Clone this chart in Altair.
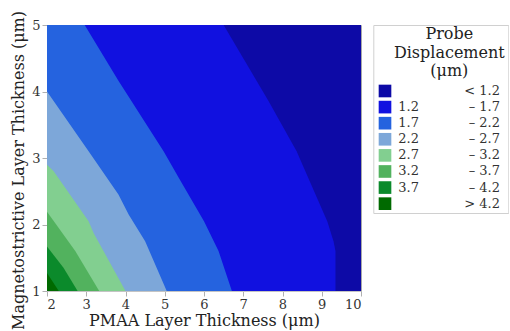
import altair as alt
import pandas as pd

# Contour bands (lowest to highest displacement)
bands = ["< 1.2", "1.2 – 1.7", "1.7 – 2.2", "2.2 – 2.7", "2.7 – 3.2", "3.2 – 3.7", "3.7 – 4.2", "> 4.2"]
band_lo = ["", "1.2", "1.7", "2.2", "2.7", "3.2", "3.7", ""]
band_hi = ["< 1.2", "– 1.7", "– 2.2", "– 2.7", "– 3.2", "– 3.7", "– 4.2", "> 4.2"]
colors = ["#0d0aa6", "#1111e0", "#2563df", "#7da7d9", "#82cf90", "#52b25e", "#0b8a2b", "#006a00"]

# Contour boundaries: region left of boundary k has colour of band k
# (y = magnetostrictive thickness, x = PMAA thickness)
b0_y = [1, 5]
b0_x = [10, 10]
b1_y = [1, 1.6, 1.75, 2.05, 3.1, 3.86, 5]
b1_x = [9.35, 9.35, 9.30, 9.14, 8.36, 7.64, 6.50]
b2_y = [1, 1.6, 2.05, 2.7, 3.1, 4.16, 5]
b2_x = [6.71, 6.37, 6.0, 5.36, 4.97, 3.82, 2.96]
b3_y = [1, 1.75, 2.15, 2.45, 3.1, 4.0]
b3_x = [5.05, 4.50, 4.08, 3.82, 3.06, 2.0]
b4_y = [1, 1.87, 2.05, 2.80, 2.90]
b4_x = [4.0, 3.19, 3.06, 2.17, 2.0]
b5_y = [1, 1.6, 2.19]
b5_x = [3.33, 2.72, 2.0]
b6_y = [1, 1.35, 1.67]
b6_x = [2.78, 2.42, 2.0]
b7_y = [1, 1.27]
b7_x = [2.30, 2.0]

x_ticks = [2, 3, 4, 5, 6, 7, 8, 9, 10]
y_ticks = [1, 2, 3, 4, 5]
legend_title = ["Probe", "Displacement", "(μm)"]

boundaries = [(b0_y, b0_x), (b1_y, b1_x), (b2_y, b2_x), (b3_y, b3_x),
              (b4_y, b4_x), (b5_y, b5_x), (b6_y, b6_x), (b7_y, b7_x)]

x_min = x_ticks[0]
y_min = y_ticks[0]

# polygon per band: boundary points bottom->top, then back down the left edge
rows = []
for k, (ys, xs) in enumerate(boundaries):
    pts = list(zip(xs, ys))
    pts += [(x_min, ys[-1]), (x_min, y_min)]
    for i, (x, y) in enumerate(pts):
        rows.append({"band": bands[k], "k": k, "i": i, "x": x, "y": y})
df = pd.DataFrame(rows)

FONT = "DejaVu Serif"
color_scale = alt.Scale(domain=bands, range=colors)
xs = alt.Scale(domain=[x_ticks[0], x_ticks[-1]], nice=False, zero=False)
ys_ = alt.Scale(domain=[y_ticks[0], y_ticks[-1]], nice=False, zero=False)

x_axis = alt.Axis(values=x_ticks, format="d", grid=False, title="PMAA Layer Thickness (μm)",
                  domainColor="#c4c4c4", tickColor="#b0b0b0", tickSize=5,
                  labelFont=FONT, labelFontSize=13, labelColor="#333333", labelPadding=2,
                  titleFont=FONT, titleFontSize=16, titleFontWeight="normal", titleColor="#222222",
                  titlePadding=1)
y_axis = alt.Axis(values=y_ticks, format="d", grid=False, title="Magnetostrictive Layer Thickness (μm)",
                  domainColor="#c4c4c4", tickColor="#b0b0b0", tickSize=5,
                  labelFont=FONT, labelFontSize=13, labelColor="#333333", labelPadding=2,
                  titleFont=FONT, titleFontSize=16, titleFontWeight="normal", titleColor="#222222",
                  titlePadding=5, titleY=145)

layers = []
for k in range(len(bands)):
    layers.append(
        alt.Chart(df).transform_filter(alt.datum.k == k)
        .mark_line(fill=colors[k], strokeWidth=0, stroke=colors[k], interpolate="linear")
        .encode(
            x=alt.X("x:Q", scale=xs, axis=x_axis),
            y=alt.Y("y:Q", scale=ys_, axis=y_axis),
            order=alt.Order("i:Q"),
        )
    )
main = alt.layer(*layers).properties(width=314, height=266,
                                     view=alt.ViewBackground(stroke="#a8a8a8"))

# Custom two-column legend
lg = pd.DataFrame({"band": bands, "lo": band_lo, "hi": band_hi, "row": list(range(len(bands)))})
lt = pd.DataFrame({"line": legend_title, "row": [-3.22, -2.08, -0.93]})
ly = alt.Scale(domain=[-4.1, 7.58], reverse=True, nice=False, zero=False)

sw = alt.Chart(lg).mark_square(size=160, opacity=1).encode(
    x=alt.value(11.7), y=alt.Y("row:Q", scale=ly, axis=None),
    color=alt.Color("band:N", scale=color_scale, legend=None))
lo_t = alt.Chart(lg).mark_text(align="left", baseline="middle", font=FONT, fontSize=13,
                               color="#333333").encode(
    x=alt.value(25), y=alt.Y("row:Q", scale=ly, axis=None), text="lo:N")
hi_t = alt.Chart(lg).mark_text(align="right", baseline="middle", font=FONT, fontSize=13,
                               color="#333333").encode(
    x=alt.value(126.7), y=alt.Y("row:Q", scale=ly, axis=None), text="hi:N")
tt = alt.Chart(lt).mark_text(align="center", baseline="alphabetic", font=FONT, fontSize=16,
                             color="#222222").encode(
    x=alt.value(76), y=alt.Y("row:Q", scale=ly, axis=None), text="line:N")
legend = alt.layer(sw, lo_t, hi_t, tt).properties(width=135, height=188,
                                                  view=alt.ViewBackground(stroke="#d0d0d0"))

chart = alt.hconcat(main, legend, spacing=12.3, bounds="flush").properties(
    padding={"left": 10, "top": 10, "right": 0, "bottom": 0}
).configure_view(strokeWidth=1)

chart.save("out.html", embed_options={"renderer": "svg", "actions": False})
